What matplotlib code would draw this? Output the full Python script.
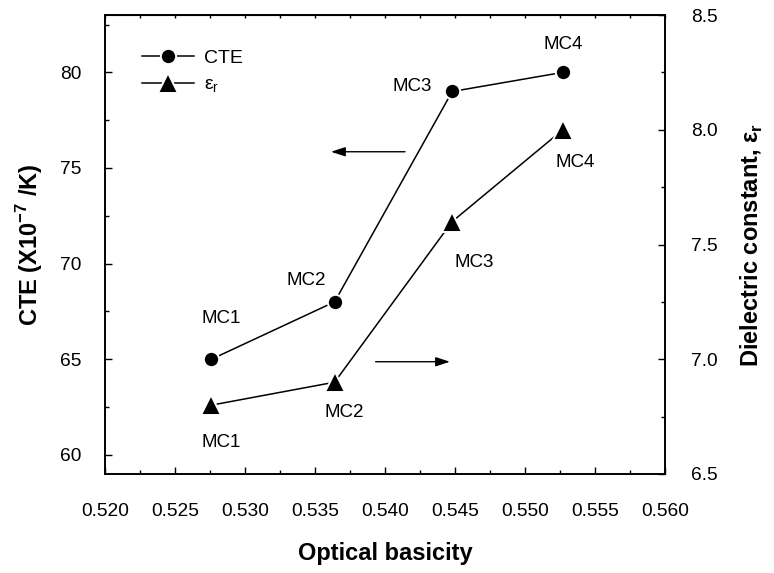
import matplotlib
matplotlib.use('Agg')
import matplotlib.pyplot as plt
from matplotlib.ticker import MultipleLocator, FormatStrFormatter

plt.rcParams['font.family'] = ['Liberation Sans', 'DejaVu Sans']
plt.rcParams['mathtext.fontset'] = 'custom'
plt.rcParams['mathtext.rm'] = 'Liberation Sans'
plt.rcParams['mathtext.bf'] = 'Liberation Sans:bold'

# Data
basicity = [0.5276, 0.5364, 0.5448, 0.5527]
cte = [65, 68, 79, 80]
eps_r = [6.8, 6.9, 7.6, 8.0]
samples = ['MC1', 'MC2', 'MC3', 'MC4']

# label offsets (pixels) for each sample name
cte_offsets = [(10, 41), (-28, 21), (-40, 5), (0, 28)]
eps_offsets = [(10, -37), (10, -30), (22, -41), (12, -33)]

fig = plt.figure(figsize=(7.74, 5.73), dpi=100)
ax = fig.add_axes([105/774, 1 - 474/573, 560/774, 459/573])
ax2 = ax.twinx()

l1, = ax.plot(basicity, cte, '-o', color='black', lw=1.1, ms=11,
              mfc='black', mec='white', mew=1.4, label='CTE')
l2, = ax2.plot(basicity, eps_r, '-^', color='black', lw=1.1, ms=14,
               mfc='black', mec='white', mew=1.4, label='ε$_\\mathregular{r}$')

for xv, yv, name, off in zip(basicity, cte, samples, cte_offsets):
    ax.annotate(name, (xv, yv), xytext=off, textcoords='offset pixels',
                ha='center', va='center', fontsize=13.5)
for xv, yv, name, off in zip(basicity, eps_r, samples, eps_offsets):
    ax2.annotate(name, (xv, yv), xytext=off, textcoords='offset pixels',
                 ha='center', va='center', fontsize=13.5)

# arrows pointing to the matching axis
arrow = dict(arrowstyle='-|>,head_length=0.43,head_width=0.14', color='black',
             lw=1, shrinkA=0, shrinkB=0, mutation_scale=20)
ax.annotate('', xy=(0.53614, 75.85), xytext=(0.54143, 75.85), arrowprops=arrow)
ax.annotate('', xy=(0.54464, 64.87), xytext=(0.53933, 64.87), arrowprops=arrow)

ax.set_xlim(0.520, 0.560)
ax.set_ylim(59, 83)
ax2.set_ylim(6.5, 8.5)

ax.xaxis.set_major_locator(MultipleLocator(0.005))
ax.xaxis.set_minor_locator(MultipleLocator(0.0025))
ax.yaxis.set_major_locator(MultipleLocator(5))
ax.yaxis.set_minor_locator(MultipleLocator(2.5))
ax2.yaxis.set_major_locator(MultipleLocator(0.5))
ax2.yaxis.set_minor_locator(MultipleLocator(0.25))
ax.xaxis.set_major_formatter(FormatStrFormatter('%.3f'))
ax2.yaxis.set_major_formatter(FormatStrFormatter('%.1f'))

ax.tick_params(axis='x', which='both', direction='in', labelsize=13.8, pad=21)
ax.tick_params(axis='y', which='both', direction='in', labelsize=13.8, pad=17)
ax2.tick_params(axis='y', which='both', direction='in', labelsize=13.8, pad=19)
for a in (ax, ax2):
    a.tick_params(which='major', length=5, width=1)
    a.tick_params(which='minor', length=3, width=1)
    for s in a.spines.values():
        s.set_linewidth(1.2)

# tiny ticks along the top edge
top = ax.secondary_xaxis('top')
top.xaxis.set_major_locator(MultipleLocator(0.0025))
top.tick_params(direction='in', length=2, width=1, labeltop=False)

ax.set_xlabel('Optical basicity', fontsize=17, fontweight='bold', labelpad=16)
ax.set_ylabel('CTE (X10$^{\\mathbf{-7}}$ /K)', fontsize=17, fontweight='bold', labelpad=11)
ax2.set_ylabel('Dielectric constant, ε$_\\mathbf{r}$', fontsize=17, fontweight='bold', labelpad=15)

ax.legend(handles=[l1, l2], loc='upper left', bbox_to_anchor=(0.0655, 0.925),
          frameon=False, fontsize=14, handlelength=2.7, handletextpad=0.5,
          labelspacing=0.45, borderpad=0, borderaxespad=0)

fig.savefig('out.png', dpi=100)
